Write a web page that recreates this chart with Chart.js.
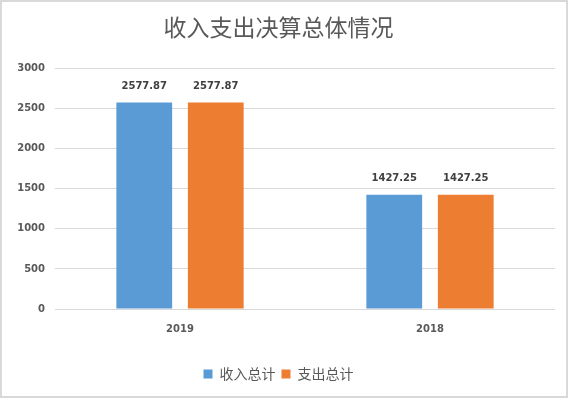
<!DOCTYPE html>
<html>
<head>
<meta charset="utf-8">
<script src="https://cdn.jsdelivr.net/npm/chart.js@4.4.0/dist/chart.umd.min.js"></script>
<style>
  html, body { margin: 0; padding: 0; background: #fff; }
  #frame {
    width: 568px; height: 398px; box-sizing: border-box;
    border: 2px solid #d9d9d9; background: #fff;
  }
  #wrap { position: relative; width: 564px; height: 394px; }
</style>
</head>
<body>
<div id="frame"><div id="wrap"><canvas id="budgetChart"></canvas></div></div>
<script>
// Chart data
const years = ['2019', '2018'];
const incomeTotal = [2577.87, 1427.25];
const expenseTotal = [2577.87, 1427.25];
const seriesNames = ['收入总计', '支出总计'];
const yTicks = [0, 500, 1000, 1500, 2000, 2500, 3000];

const numFont = { family: "'DejaVu Sans', sans-serif", size: 10, weight: 'bold' };

// Draw value labels above each bar
const barLabels = {
    id: 'barLabels',
    afterDatasetsDraw(chart) {
        const ctx = chart.ctx;
        ctx.save();
        ctx.font = `bold ${numFont.size}px ${numFont.family}`;
        ctx.fillStyle = '#404040';
        ctx.textAlign = 'center';
        ctx.textBaseline = 'middle';
        chart.data.datasets.forEach((ds, i) => {
            chart.getDatasetMeta(i).data.forEach((bar, j) => {
                ctx.fillText(ds.data[j].toFixed(2), bar.x, bar.y - 16);
            });
        });
        ctx.restore();
    }
};

new Chart(document.getElementById('budgetChart'), {
    type: 'bar',
    data: {
        labels: years,
        datasets: [{
            label: seriesNames[0],
            data: incomeTotal,
            backgroundColor: '#5B9BD5',
            categoryPercentage: 0.572,
            barPercentage: 0.78
        }, {
            label: seriesNames[1],
            data: expenseTotal,
            backgroundColor: '#ED7D31',
            categoryPercentage: 0.572,
            barPercentage: 0.78
        }]
    },
    options: {
        responsive: true,
        maintainAspectRatio: false,
        animation: false,
        layout: { padding: { left: 0, right: 11, top: 0, bottom: 5 } },
        plugins: {
            title: {
                display: true,
                text: '收入支出决算总体情况',
                color: '#595959',
                font: { family: "'Noto Sans CJK SC', sans-serif", size: 23, weight: 'normal' },
                padding: { top: 11, bottom: 28 }
            },
            legend: {
                position: 'bottom',
                labels: {
                    color: '#595959',
                    font: { family: "'Noto Sans CJK SC', sans-serif", size: 14 },
                    boxWidth: 9,
                    boxHeight: 9,
                    padding: 6
                }
            },
            tooltip: { enabled: false }
        },
        scales: {
            x: {
                grid: { display: false },
                border: { display: false },
                ticks: { color: '#595959', font: numFont, padding: 6 },
                afterFit(scale) { scale.height = 52; }
            },
            y: {
                min: 0,
                max: 3000,
                afterBuildTicks(scale) { scale.ticks = yTicks.map(v => ({ value: v })); },
                grid: { color: '#d9d9d9', drawTicks: false },
                border: { display: false },
                ticks: {
                    color: '#595959',
                    font: numFont,
                    padding: 10,
                    callback: (value) => String(value)
                },
                afterFit(scale) { scale.width = 53; }
            }
        }
    },
    plugins: [barLabels]
});
</script>
</body>
</html>
